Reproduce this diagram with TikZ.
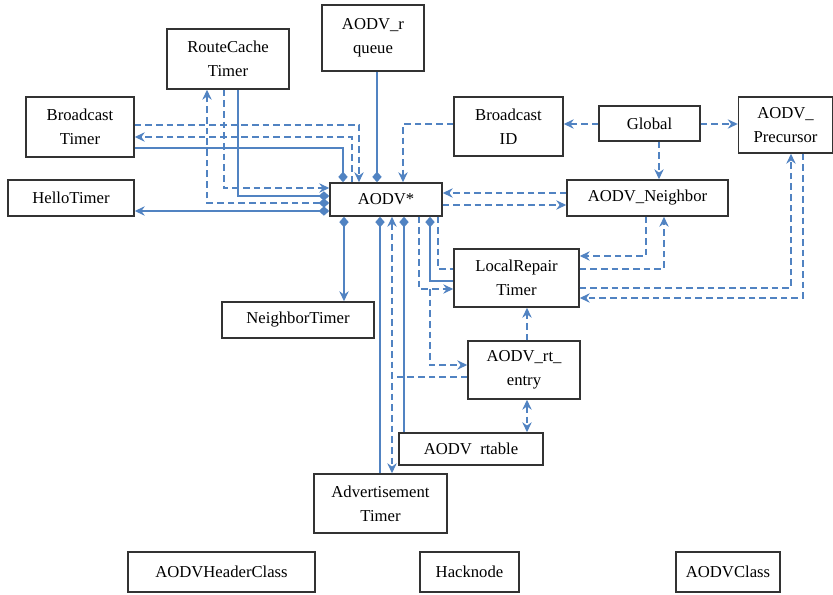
\documentclass[tikz,border=0pt]{standalone}
\usepackage{fontspec}
\setmainfont{Liberation Serif}
\usetikzlibrary{arrows.meta}
\definecolor{linkblue}{HTML}{5183C2}

\begin{document}
\begin{tikzpicture}[x=0.75pt,y=-0.75pt,
			>={Stealth[length=7.5pt,width=7pt,inset=2.5pt]},
			dia/.tip={Diamond[length=8pt,width=7pt]},
			box/.style={
				draw=black!80,
				line width=1.1pt,
				fill=white,
				inner sep=1pt,
				align=center,
				font=\fontsize{12.5}{18}\selectfont
			},
			wh/.style 2 args={minimum width=#1*0.75pt,minimum height=#2*0.75pt},
			link/.style={draw=linkblue,line width=1.1pt},
			dep/.style={link,dash pattern=on 5pt off 3pt}]
			
			\useasboundingbox (0,0) rectangle (833,595);
			
			\node[box,wh={122}{60}] (rct) at (228,59) {RouteCache\\Timer};
			
			\node[box,wh={102}{66}] (rqueue) at (373,38) {AODV\_r\\queue};
			
			\node[box,wh={108}{60}] (bt) at (80,127) {Broadcast\\Timer};
			
			\node[box,wh={126}{36}] (hello) at (71,198) {HelloTimer};
			
			\node[box,wh={112}{33}] (aodv) at (386,199.5) {AODV*};
			
			\node[box,wh={109}{59}] (bid) at (508.5,126.5) {Broadcast\\ID};
			
			\node[box,wh={101}{35}] (global) at (649.5,123.5) {Global};
			
			\node[box,wh={94}{56}] (prec) at (785.5,125) {AODV\_\\Precursor};
			
			\node[box,wh={161}{36}] (nbr) at (647.5,198) {AODV\_Neighbor};
			
			\node[box,wh={125}{58}] (lrt) at (516.5,278) {LocalRepair\\Timer};
			
			\node[box,wh={152}{36}] (ntimer) at (298,320) {NeighborTimer};
			
			\node[box,wh={112}{58}] (rte) at (524,370) {AODV\_rt\_\\entry};
			
			\node[box,wh={144}{32}] (rtable) at (471,449) {AODV\enspace rtable};
			
			\node[box,wh={133}{59}] (adv) at (380.5,503.5) {Advertisement\\Timer};
			
			\node[box,wh={187}{40}] (hdr) at (221.5,572) {AODVHeaderClass};
			
			\node[box,wh={99}{40}] (hack) at (469.5,572) {Hacknode};
			
			\node[box,wh={104}{40}] (cls) at (728,572) {AODVClass};
			
			\coordinate (join) at (392,377);
			
			\coordinate (fork) at (430,289);
			
			\draw[dep,->](bt.east |- 0,125) -| (aodv.north -| 359,0);
			
			\draw[dep,->](aodv.north -| 352,0) |- (bt.east |- 0,137);
			
			\draw[link,dia-](aodv.north -| 343,0) |- (bt.east |- 0,148);
			
			\draw[link,dia-](aodv.north -| 377,0) -- (rqueue.south -| 377,0);
			
			\draw[dep,->](bid.west |- 0,124) -| (aodv.north -| 403,0);
			
			\draw[dep,->](rct.south -| 224,0) |- (aodv.west |- 0,188);
			
			\draw[link,dia-](aodv.west |- 0,196) -| (rct.south -| 238,0);
			
			\draw[dep,dia->](aodv.west |- 0,203) -| (rct.south -| 207,0);
			
			\draw[link,dia->](aodv.west |- 0,211) -- (hello.east |- 0,211);
			
			\draw[dep,->](nbr.west |- 0,193) -- (aodv.east |- 0,193);
			
			\draw[dep,->](aodv.east |- 0,205) -- (nbr.west |- 0,205);
			
			\draw[dep,->](global.west |- 0,124) -- (bid.east |- 0,124);
			
			\draw[dep,->](global.east |- 0,124) -- (prec.west |- 0,124);
			
			\draw[dep,->](global.south -| 659,0) -- (nbr.north -| 659,0);
			
			\draw[dep,->](nbr.south -| 646,0) |- (lrt.east |- 0,256);
			
			\draw[dep,->](lrt.east |- 0,269) -| (nbr.south -| 664,0);
			
			\draw[dep,->](lrt.east |- 0,288) -| (prec.south -| 791,0);
			
			\draw[dep,->](prec.south -| 803,0) |- (lrt.east |- 0,298);
			
			\draw[link,dia->](aodv.south -| 344,0) -- (ntimer.north -| 344,0);
			
			\draw[link,dia-](aodv.south -| 380,0) -- (adv.north -| 380,0);
			
			\draw[dep,<->](aodv.south -| 392,0) -- (adv.north -| 392,0);
			
			\draw[dep](rte.west |- join) -- (join);
			
			\draw[link,dia-](aodv.south -| 404,0) -- (rtable.north -| 404,0);
			
			\draw[dep,->](aodv.south -| 419,0) |- (lrt.west |- fork);
			
			\draw[dep,->](fork) |- (rte.west |- 0,365);
			
			\draw[link,dia-](aodv.south -| 430,0) |- (lrt.west |- 0,281);
			
			\draw[dep](aodv.south -| 438,0) |- (lrt.west |- 0,269);
			
			\draw[dep,->](rte.north -| 527,0) -- (lrt.south -| 527,0);
			
			\draw[dep,<->](rte.south -| 527,0) -- (rtable.north -| 527,0);
			
		\end{tikzpicture}
\end{document}
